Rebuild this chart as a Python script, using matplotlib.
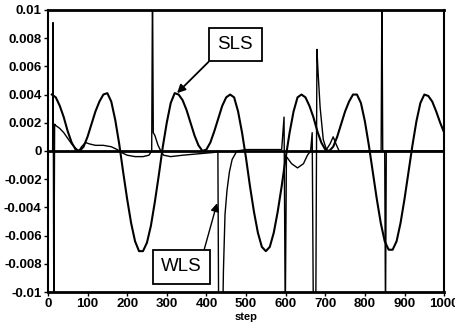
import matplotlib
matplotlib.use("Agg")
import matplotlib.pyplot as plt

plt.rcParams['font.family'] = ['Liberation Sans', 'DejaVu Sans']

sls_step = list(range(10, 1001, 10))
sls_val = [
    0.0040, 0.0038, 0.0032, 0.0024, 0.0014, 0.0006, 0.0001, 0.0000, 0.0003, 0.0010,
    0.0019, 0.0028, 0.0035, 0.0040, 0.0041, 0.0035, 0.0022, 0.0005, -0.0015, -0.0034,
    -0.0051, -0.0064, -0.0071, -0.0071, -0.0065, -0.0053, -0.0036, -0.0017, 0.0003, 0.0020,
    0.0034, 0.0041, 0.0040, 0.0036, 0.0029, 0.0020, 0.0011, 0.0004, 0.0000, 0.0001,
    0.0006, 0.0014, 0.0023, 0.0032, 0.0038, 0.0040, 0.0038, 0.0028, 0.0013, -0.0005,
    -0.0025, -0.0043, -0.0058, -0.0068, -0.0071, -0.0068, -0.0058, -0.0043, -0.0025, -0.0005,
    0.0013, 0.0028, 0.0038, 0.0040, 0.0038, 0.0032, 0.0024, 0.0014, 0.0006, 0.0001,
    0.0000, 0.0003, 0.0010, 0.0019, 0.0028, 0.0035, 0.0040, 0.0040, 0.0034, 0.0021,
    0.0004, -0.0015, -0.0034, -0.0051, -0.0064, -0.0070, -0.0070, -0.0064, -0.0051, -0.0034,
    -0.0015, 0.0004, 0.0021, 0.0034, 0.0040, 0.0039, 0.0035, 0.0028, 0.0020, 0.0013,
]

# WLS curve (spikes run off the axes and get clipped)
wls_step = [12, 13, 15, 17, 20, 30, 40, 50, 60, 70, 78, 85, 95, 105, 120, 140, 160,
            175, 185, 200, 220, 240, 255, 262, 264, 266, 270, 278, 285, 292, 310,
            340, 380, 420, 429, 431, 441, 443, 447, 452, 458, 465, 477, 500, 550,
            590, 596, 599, 602, 615, 630, 645, 655, 663, 667, 670, 676, 679, 682,
            687, 695, 703, 712, 720, 727, 735, 780, 841, 843, 845, 850, 852, 854, 1000]
wls_val = [0.0, 0.0091, -0.012, 0.0019, 0.0018, 0.0016, 0.0013, 0.0009, 0.0005, 0.0002,
           0.0, 0.0003, 0.0006, 0.0005, 0.0004, 0.0004, 0.0003,
           0.0001, -0.0001, -0.0003, -0.0004, -0.0004, -0.0003, 0.0, 0.012, 0.0013,
           0.0011, 0.0004, 0.0, -0.0003, -0.0004,
           -0.0003, -0.0002, -0.0001, 0.0, -0.012, -0.012, -0.0085, -0.0045, -0.0028,
           -0.0015, -0.0006, 0.0, 0.0001, 0.0001,
           0.0001, 0.0024, -0.012, -0.0004, -0.0009, -0.0012, -0.0009, -0.0003, 0.0,
           0.0013, -0.012, -0.012, 0.0072, 0.0055,
           0.0031, 0.0008, 0.0001, 0.0005, 0.0010, 0.0005, 0.0, 0.0, 0.0, 0.012, 0.0,
           0.0, -0.012, 0.0, 0.0]

xticks = list(range(0, 1001, 100))
yticks = [-0.01, -0.008, -0.006, -0.004, -0.002, 0, 0.002, 0.004, 0.006, 0.008, 0.01]
ylabels = ['-0.01', '-0.008', '-0.006', '-0.004', '-0.002', '0',
           '0.002', '0.004', '0.006', '0.008', '0.01']

fig = plt.figure(figsize=(4.56, 3.30), dpi=100)
ax = fig.add_axes([0.105, 0.115, 0.869, 0.855])

ax.axhline(0, color='black', lw=2.0, zorder=1)
ax.plot(wls_step, wls_val, color='black', lw=1.0, zorder=2)
ax.plot(sls_step, sls_val, color='black', lw=1.5, zorder=3)

ax.set_xlim(0, 1000)
ax.set_ylim(-0.01, 0.01)
ax.set_xticks(xticks)
ax.set_xticklabels([str(t) for t in xticks], fontsize=9.5, fontweight='bold')
ax.set_yticks(yticks)
ax.set_yticklabels(ylabels, fontsize=9.5, fontweight='bold')
ax.tick_params(direction='out', length=3, width=1, pad=1.5)
ax.set_xlabel('step', fontsize=8, fontweight='bold', labelpad=1)

for side in ['top', 'bottom']:
    ax.spines[side].set_linewidth(2.0)
for side in ['left', 'right']:
    ax.spines[side].set_linewidth(1.5)

box = dict(boxstyle='square,pad=0.45', fc='white', ec='black', lw=1.3)
ax.annotate('SLS', xy=(326, 0.0041), xytext=(473, 0.00755), fontsize=13.5,
            ha='center', va='center', bbox=box,
            arrowprops=dict(arrowstyle='-|>', color='black', lw=1.3,
                            mutation_scale=12, relpos=(0, 0), shrinkA=0, shrinkB=0))
ax.annotate('WLS', xy=(427, -0.0037), xytext=(337, -0.0082), fontsize=13.5,
            ha='center', va='center', bbox=box,
            arrowprops=dict(arrowstyle='-|>', color='black', lw=1.0,
                            mutation_scale=12, relpos=(1, 1), shrinkA=0, shrinkB=0))

fig.savefig('out.png', dpi=100)
